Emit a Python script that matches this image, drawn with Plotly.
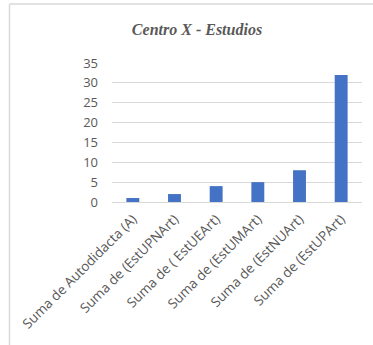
import plotly.graph_objects as go

categories = ["Suma de Autodidacta (A)", "Suma de (EstUPNArt)", "Suma de ( EstUEArt)",
              "Suma de (EstUMArt)", "Suma de (EstNUArt)", "Suma de (EstUPArt)"]
values = [1, 2, 4, 5, 8, 32]
y_ticks = [0, 5, 10, 15, 20, 25, 30, 35]

W, H = 373, 345
L, R, T, B = 112, 11, 63, 143
pw, ph = W - L - R, H - T - B

fig = go.Figure(go.Bar(x=categories, y=values, marker=dict(color="#4472C4", line=dict(width=0)),
                       width=0.31))

fig.update_layout(
    width=W, height=H,
    margin=dict(l=L, r=R, t=T, b=B, autoexpand=False),
    paper_bgcolor="white", plot_bgcolor="white",
    showlegend=False,
    bargap=0.69,
    title=dict(text="<b><i>Centro X - Estudios</i></b>", x=197 / W, xref="container", xanchor="center",
               y=1 - 29 / H, yref="container", yanchor="middle",
               font=dict(family="Liberation Serif", size=16, color="#595959")),
    font=dict(family="Open Sans", size=13, color="#595959"),
)
fig.update_yaxes(range=[0, 35], tickvals=y_ticks, showgrid=True, gridcolor="#d9d9d9", gridwidth=1,
                 zeroline=False, showline=False, ticks="", ticklabelstandoff=13,
                 tickfont=dict(family="Open Sans", size=13, color="#595959"), fixedrange=True)
fig.update_xaxes(showgrid=False, showline=True, linecolor="#d9d9d9", linewidth=1, ticks="",
                 tickangle=-45, ticklabelstandoff=3,
                 tickfont=dict(family="Open Sans", size=13.5, color="#595959"),
                 fixedrange=True)

# chart frame (top and left edges visible)
top_y = (H - B - 4) / ph
left_x = (9.5 - L) / pw
fig.add_shape(type="line", xref="paper", yref="paper", x0=left_x, x1=(W - L) / pw, y0=top_y, y1=top_y,
              line=dict(color="#d9d9d9", width=1.5))
fig.add_shape(type="line", xref="paper", yref="paper", x0=left_x, x1=left_x, y0=top_y, y1=-(B + 5) / ph,
              line=dict(color="#d9d9d9", width=1.5))

fig.write_html("out.html", config={"displayModeBar": False})
